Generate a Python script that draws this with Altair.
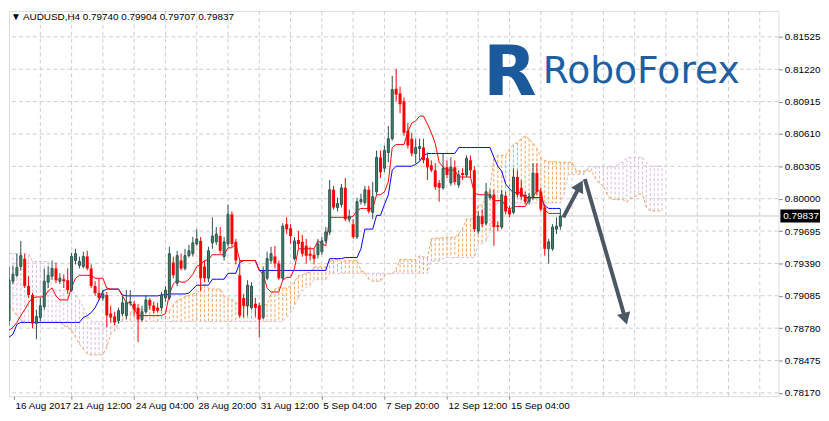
import altair as alt
import pandas as pd

# ---------------- data ----------------
open_ = [
    0.78852, 0.79222, 0.79278, 0.79361, 0.79435, 0.79176, 0.79093, 0.78824, 0.78880, 0.78982,
    0.79213, 0.79269, 0.79343, 0.79222, 0.79241, 0.79232, 0.79139, 0.79417, 0.79371, 0.79361,
    0.79454, 0.79343, 0.79176, 0.79111, 0.79065, 0.79093, 0.78917, 0.78889, 0.78852, 0.78917,
    0.78898, 0.79019, 0.79009, 0.78972, 0.78861, 0.78935, 0.79046, 0.78991, 0.78972, 0.78972,
    0.79065, 0.79065, 0.79398, 0.79204, 0.79417, 0.79343, 0.79463, 0.79482, 0.79574, 0.79602,
    0.79361, 0.79250, 0.79584, 0.79593, 0.79648, 0.79454, 0.79574, 0.79852, 0.79593, 0.79278,
    0.79065, 0.78991, 0.78972, 0.79009, 0.78991, 0.78880, 0.79250, 0.79417, 0.79454, 0.79389,
    0.79250, 0.79760, 0.79722, 0.79435, 0.79611, 0.79593, 0.79556, 0.79482, 0.79472, 0.79472,
    0.79500, 0.79602, 0.79685, 0.80084, 0.79917, 0.79945, 0.80102, 0.79806, 0.79760, 0.79639,
    0.79972, 0.79963, 0.80084, 0.79871, 0.80065, 0.80389, 0.80287, 0.80435, 0.80565, 0.81037,
    0.80991, 0.80917, 0.80639, 0.80565, 0.80426, 0.80473, 0.80482, 0.80380, 0.80315, 0.80269,
    0.80148, 0.80102, 0.80297, 0.80148, 0.80297, 0.80130, 0.80241, 0.80223, 0.80361, 0.80269,
    0.79695, 0.79834, 0.79769, 0.80010, 0.80037, 0.79750, 0.79732, 0.80028, 0.79898, 0.79871,
    0.80204, 0.80102, 0.80037, 0.79972, 0.80019, 0.80241, 0.80065, 0.79917, 0.79528, 0.79528,
    0.79713, 0.79740]
high_ = [
    0.79361, 0.79371, 0.79482, 0.79602, 0.79482, 0.79269, 0.79111, 0.78954, 0.79065, 0.79343,
    0.79361, 0.79417, 0.79398, 0.79297, 0.79287, 0.79343, 0.79491, 0.79528, 0.79454, 0.79500,
    0.79509, 0.79380, 0.79222, 0.79250, 0.79139, 0.79121, 0.78991, 0.78935, 0.78972, 0.79084,
    0.79139, 0.79139, 0.79037, 0.79009, 0.78991, 0.79084, 0.79065, 0.79028, 0.79019, 0.79121,
    0.79176, 0.79547, 0.79454, 0.79509, 0.79482, 0.79528, 0.79565, 0.79639, 0.79713, 0.79639,
    0.79417, 0.79547, 0.79824, 0.79732, 0.79732, 0.79639, 0.79945, 0.79880, 0.79621, 0.79417,
    0.79102, 0.79232, 0.79213, 0.79065, 0.79019, 0.79361, 0.79500, 0.79547, 0.79556, 0.79417,
    0.79769, 0.79824, 0.79760, 0.79639, 0.79695, 0.79658, 0.79621, 0.79547, 0.79528, 0.79621,
    0.79639, 0.79732, 0.80176, 0.80121, 0.80010, 0.80139, 0.80195, 0.79898, 0.79806, 0.80010,
    0.80047, 0.80121, 0.80121, 0.80158, 0.80454, 0.80454, 0.80500, 0.80686, 0.81158, 0.81223,
    0.81056, 0.80954, 0.80713, 0.80621, 0.80565, 0.80565, 0.80565, 0.80435, 0.80361, 0.80334,
    0.80176, 0.80426, 0.80361, 0.80389, 0.80361, 0.80269, 0.80287, 0.80408, 0.80408, 0.80306,
    0.79880, 0.79898, 0.80148, 0.80084, 0.80084, 0.79787, 0.80084, 0.80065, 0.79935, 0.80287,
    0.80269, 0.80176, 0.80065, 0.80056, 0.80334, 0.80334, 0.80102, 0.79945, 0.79621, 0.79760,
    0.79824, 0.79904]
low_ = [
    0.78806, 0.79195, 0.79259, 0.79324, 0.79158, 0.79065, 0.78778, 0.78676, 0.78843, 0.78954,
    0.79158, 0.79232, 0.79204, 0.79195, 0.79158, 0.79102, 0.79121, 0.79380, 0.79343, 0.79343,
    0.79324, 0.79158, 0.79084, 0.79046, 0.79037, 0.78787, 0.78834, 0.78806, 0.78824, 0.78889,
    0.78861, 0.78991, 0.78898, 0.78648, 0.78843, 0.78917, 0.78954, 0.78917, 0.78926, 0.78945,
    0.79028, 0.79046, 0.79250, 0.79176, 0.79324, 0.79324, 0.79445, 0.79454, 0.79556, 0.79130,
    0.79213, 0.79213, 0.79528, 0.79565, 0.79482, 0.79417, 0.79547, 0.79547, 0.79380, 0.78880,
    0.78880, 0.78898, 0.78954, 0.78889, 0.78695, 0.78861, 0.79232, 0.79389, 0.79343, 0.79232,
    0.79232, 0.79667, 0.79574, 0.79417, 0.79528, 0.79454, 0.79389, 0.79417, 0.79380, 0.79435,
    0.79472, 0.79584, 0.79658, 0.79898, 0.79880, 0.79917, 0.79787, 0.79778, 0.79621, 0.79621,
    0.79945, 0.79935, 0.79861, 0.79806, 0.80037, 0.80195, 0.80250, 0.80343, 0.80547, 0.80917,
    0.80806, 0.80593, 0.80473, 0.80398, 0.80334, 0.80361, 0.80334, 0.80176, 0.80250, 0.80084,
    0.79972, 0.80084, 0.80195, 0.80121, 0.80130, 0.80102, 0.80176, 0.80204, 0.80195, 0.79685,
    0.79667, 0.79732, 0.79750, 0.79991, 0.79556, 0.79695, 0.79713, 0.79852, 0.79824, 0.79852,
    0.80010, 0.79991, 0.79945, 0.79945, 0.79991, 0.80037, 0.79880, 0.79463, 0.79389, 0.79509,
    0.79667, 0.79707]
close_ = [
    0.79232, 0.79287, 0.79352, 0.79463, 0.79176, 0.79093, 0.78824, 0.78889, 0.78991, 0.79222,
    0.79278, 0.79343, 0.79232, 0.79250, 0.79222, 0.79139, 0.79454, 0.79482, 0.79408, 0.79454,
    0.79343, 0.79176, 0.79111, 0.79065, 0.79102, 0.78898, 0.78880, 0.78834, 0.78945, 0.79019,
    0.79019, 0.79028, 0.78954, 0.78861, 0.78935, 0.79046, 0.78991, 0.78945, 0.78945, 0.79093,
    0.79139, 0.79482, 0.79278, 0.79463, 0.79343, 0.79463, 0.79509, 0.79584, 0.79621, 0.79250,
    0.79250, 0.79509, 0.79648, 0.79667, 0.79509, 0.79593, 0.79852, 0.79574, 0.79417, 0.78898,
    0.78991, 0.79185, 0.79176, 0.78972, 0.78861, 0.79315, 0.79435, 0.79482, 0.79389, 0.79250,
    0.79741, 0.79713, 0.79648, 0.79602, 0.79574, 0.79482, 0.79463, 0.79463, 0.79435, 0.79574,
    0.79602, 0.79685, 0.80084, 0.79917, 0.79954, 0.80102, 0.79806, 0.79834, 0.79639, 0.79972,
    0.79991, 0.80084, 0.79880, 0.80019, 0.80389, 0.80250, 0.80454, 0.80565, 0.81028, 0.80982,
    0.80889, 0.80621, 0.80500, 0.80426, 0.80482, 0.80491, 0.80361, 0.80297, 0.80269, 0.80111,
    0.80102, 0.80287, 0.80223, 0.80297, 0.80158, 0.80223, 0.80223, 0.80380, 0.80269, 0.79713,
    0.79834, 0.79760, 0.80065, 0.80037, 0.79732, 0.79732, 0.80037, 0.79880, 0.79852, 0.80204,
    0.80037, 0.80019, 0.79972, 0.80019, 0.80241, 0.80065, 0.79898, 0.79528, 0.79593, 0.79732,
    0.79741, 0.79837]

tenkan = [
    0.78759, 0.78787, 0.78834, 0.78898, 0.78954, 0.79019, 0.79065, 0.79074, 0.79074, 0.79074,
    0.79130, 0.79158, 0.79084, 0.79046, 0.79046, 0.79046, 0.79167, 0.79250, 0.79278, 0.79278,
    0.79278, 0.79278, 0.79250, 0.79250, 0.79250, 0.79158, 0.79148, 0.79148, 0.79148, 0.79084,
    0.79019, 0.79019, 0.78963, 0.78898, 0.78898, 0.78898, 0.78898, 0.78898, 0.78898, 0.78898,
    0.78917, 0.79102, 0.79195, 0.79232, 0.79213, 0.79213, 0.79241, 0.79287, 0.79361, 0.79380,
    0.79417, 0.79426, 0.79472, 0.79472, 0.79472, 0.79472, 0.79537, 0.79537, 0.79574, 0.79417,
    0.79417, 0.79417, 0.79417, 0.79417, 0.79324, 0.79287, 0.79158, 0.79121, 0.79121, 0.79121,
    0.79232, 0.79259, 0.79259, 0.79343, 0.79528, 0.79528, 0.79528, 0.79528, 0.79528, 0.79602,
    0.79574, 0.79556, 0.79824, 0.79824, 0.79824, 0.79824, 0.79824, 0.79824, 0.79834, 0.79889,
    0.79908, 0.79908, 0.79908, 0.79908, 0.80037, 0.80037, 0.80065, 0.80158, 0.80482, 0.80510,
    0.80510, 0.80510, 0.80630, 0.80713, 0.80732, 0.80778, 0.80778, 0.80704, 0.80621, 0.80519,
    0.80343, 0.80297, 0.80269, 0.80269, 0.80269, 0.80204, 0.80204, 0.80204, 0.80204, 0.80056,
    0.80037, 0.80037, 0.80037, 0.80037, 0.79982, 0.79982, 0.79982, 0.79935, 0.79898, 0.79926,
    0.79926, 0.79926, 0.79926, 0.79991, 0.80019, 0.80074, 0.80074, 0.79898, 0.79861, 0.79861,
    0.79861, 0.79861]
kijun = [
    0.78695, 0.78722, 0.78815, 0.78834, 0.78834, 0.78834, 0.78834, 0.78834, 0.78834, 0.78834,
    0.78834, 0.78834, 0.78834, 0.78834, 0.78834, 0.78834, 0.78834, 0.78834, 0.78834, 0.78880,
    0.78898, 0.78926, 0.78972, 0.79046, 0.79130, 0.79148, 0.79148, 0.79148, 0.79148, 0.79093,
    0.79084, 0.79084, 0.79084, 0.79084, 0.79084, 0.79084, 0.79084, 0.79084, 0.79084, 0.79093,
    0.79093, 0.79102, 0.79102, 0.79102, 0.79102, 0.79102, 0.79111, 0.79148, 0.79185, 0.79185,
    0.79185, 0.79185, 0.79241, 0.79241, 0.79241, 0.79241, 0.79297, 0.79297, 0.79297, 0.79398,
    0.79417, 0.79417, 0.79417, 0.79417, 0.79324, 0.79324, 0.79324, 0.79324, 0.79324, 0.79324,
    0.79324, 0.79324, 0.79324, 0.79324, 0.79324, 0.79324, 0.79324, 0.79324, 0.79324, 0.79324,
    0.79324, 0.79324, 0.79435, 0.79435, 0.79435, 0.79435, 0.79445, 0.79445, 0.79445, 0.79445,
    0.79528, 0.79713, 0.79713, 0.79713, 0.79843, 0.79843, 0.79945, 0.80037, 0.80269, 0.80306,
    0.80306, 0.80306, 0.80306, 0.80306, 0.80324, 0.80352, 0.80408, 0.80426, 0.80426, 0.80426,
    0.80426, 0.80426, 0.80426, 0.80426, 0.80426, 0.80482, 0.80482, 0.80482, 0.80482, 0.80482,
    0.80482, 0.80482, 0.80482, 0.80482, 0.80389, 0.80306, 0.80259, 0.80139, 0.80093, 0.80056,
    0.80056, 0.80056, 0.80010, 0.80010, 0.80010, 0.80010, 0.80010, 0.79935, 0.79908, 0.79908,
    0.79908, 0.79908]
span_a = [
    0.79000, 0.78954, 0.78898, 0.78852, 0.78834, 0.78834, 0.78834, 0.78834, 0.78834, 0.78834,
    0.78834, 0.78834, 0.78834, 0.78834, 0.78806, 0.78787, 0.78759, 0.78695, 0.78630, 0.78583,
    0.78537, 0.78528, 0.78528, 0.78528, 0.78528, 0.78602, 0.78727, 0.78755, 0.78824, 0.78866,
    0.78894, 0.78926, 0.78949, 0.78954, 0.78954, 0.78954, 0.78982, 0.78996, 0.78959, 0.78940,
    0.78940, 0.78940, 0.79000, 0.79042, 0.79056, 0.79079, 0.79088, 0.79102, 0.79111, 0.79148,
    0.79190, 0.79153, 0.79148, 0.79148, 0.79148, 0.79088, 0.79051, 0.79051, 0.79023, 0.78991,
    0.78991, 0.78991, 0.78991, 0.78991, 0.78991, 0.78996, 0.79005, 0.79102, 0.79148, 0.79167,
    0.79158, 0.79158, 0.79176, 0.79218, 0.79273, 0.79283, 0.79301, 0.79305, 0.79357, 0.79357,
    0.79357, 0.79357, 0.79417, 0.79417, 0.79435, 0.79408, 0.79417, 0.79417, 0.79417, 0.79417,
    0.79324, 0.79305, 0.79241, 0.79222, 0.79222, 0.79222, 0.79278, 0.79292, 0.79292, 0.79334,
    0.79426, 0.79426, 0.79426, 0.79426, 0.79426, 0.79463, 0.79449, 0.79440, 0.79621, 0.79630,
    0.79630, 0.79630, 0.79634, 0.79634, 0.79639, 0.79667, 0.79718, 0.79810, 0.79810, 0.79810,
    0.79940, 0.79940, 0.80005, 0.80097, 0.80375, 0.80408, 0.80408, 0.80408, 0.80468, 0.80510,
    0.80528, 0.80565, 0.80593, 0.80565, 0.80523, 0.80473, 0.80385, 0.80361, 0.80348, 0.80348,
    0.80348, 0.80343, 0.80343, 0.80343, 0.80343, 0.80269, 0.80260, 0.80260, 0.80260, 0.80260,
    0.80185, 0.80144, 0.80121, 0.80037, 0.79996, 0.79991, 0.79991, 0.79991, 0.79968, 0.80000,
    0.80014, 0.80042, 0.80042, 0.79917, 0.79885, 0.79885, 0.79885, 0.79885]
span_b = [
    0.79482, 0.79482, 0.79482, 0.79482, 0.79482, 0.79482, 0.79408, 0.79408, 0.79408, 0.79408,
    0.79408, 0.79139, 0.79139, 0.79139, 0.79139, 0.79139, 0.79139, 0.79093, 0.79046, 0.78972,
    0.78898, 0.78843, 0.78843, 0.78843, 0.78843, 0.78843, 0.78843, 0.78843, 0.78843, 0.78843,
    0.78843, 0.78843, 0.78843, 0.78843, 0.78843, 0.78843, 0.78843, 0.78843, 0.78843, 0.78843,
    0.78843, 0.78843, 0.78843, 0.78843, 0.78843, 0.78843, 0.78843, 0.78843, 0.78843, 0.78843,
    0.78843, 0.78843, 0.78843, 0.78843, 0.78843, 0.78843, 0.78843, 0.78843, 0.78843, 0.78843,
    0.78843, 0.78843, 0.78843, 0.78843, 0.78843, 0.78843, 0.78843, 0.78843, 0.78843, 0.78843,
    0.78843, 0.78880, 0.78926, 0.78991, 0.79065, 0.79130, 0.79167, 0.79181, 0.79236, 0.79236,
    0.79236, 0.79236, 0.79297, 0.79297, 0.79297, 0.79297, 0.79297, 0.79297, 0.79297, 0.79297,
    0.79297, 0.79297, 0.79297, 0.79297, 0.79297, 0.79297, 0.79297, 0.79297, 0.79297, 0.79297,
    0.79297, 0.79297, 0.79297, 0.79297, 0.79297, 0.79297, 0.79297, 0.79297, 0.79412, 0.79412,
    0.79412, 0.79435, 0.79445, 0.79445, 0.79445, 0.79445, 0.79445, 0.79445, 0.79445, 0.79445,
    0.79574, 0.79574, 0.79597, 0.79690, 0.79926, 0.79959, 0.79959, 0.79959, 0.79959, 0.79959,
    0.79959, 0.79959, 0.79959, 0.79959, 0.79959, 0.79959, 0.79959, 0.79959, 0.79959, 0.79959,
    0.79959, 0.79959, 0.80042, 0.80227, 0.80227, 0.80227, 0.80227, 0.80227, 0.80301, 0.80301,
    0.80301, 0.80301, 0.80301, 0.80301, 0.80301, 0.80301, 0.80329, 0.80348, 0.80389, 0.80389,
    0.80389, 0.80389, 0.80389, 0.80343, 0.80306, 0.80306, 0.80306, 0.80306]

price_ticks = [0.81525, 0.81220, 0.80915, 0.80610, 0.80305, 0.80000,
               0.79695, 0.79390, 0.79085, 0.78780, 0.78475, 0.78170]
time_labels = ["16 Aug 2017", "21 Aug 12:00", "24 Aug 04:00", "28 Aug 20:00",
               "31 Aug 12:00", "5 Sep 04:00", "7 Sep 20:00", "12 Sep 12:00", "15 Sep 04:00"]
X_MIN, X_MAX = 1.25, 195.5
Y_MIN, Y_MAX = 0.78139, 0.81769
label_bars = [X_MIN, 16, 32, 48, 64, 80, 96, 112, 128]
grid_bars = [8, 16, 24, 32, 40, 48, 56, 64, 72, 80, 88, 96, 104, 112, 120, 128,
             136, 144, 152, 160, 168, 176, 184, 192]

# forecast arrows (bar index, price)
arrow_seg = ["up", "up", "down", "down"]
arrow_bar = [141.75, 146.0, 147.25, 157.6]
arrow_price = [0.79824, 0.80121, 0.80186, 0.78869]
head_bar = [146.0, 157.6]
head_price = [0.80121, 0.78869]
head_angle = [28, 164]

symbol = "AUDUSD,H4"
brand = "RoboForex"

# ---------------- frames ----------------
n = len(open_)
bars = pd.DataFrame({"bar": list(range(n)), "open": open_, "high": high_, "low": low_,
                     "close": close_, "tenkan": tenkan, "kijun": kijun})
cloud = pd.DataFrame({"bar": list(range(len(span_a))), "a": span_a, "b": span_b})
arrows = pd.DataFrame({"bar": arrow_bar, "price": arrow_price, "seg": arrow_seg})
heads = pd.DataFrame({"bar": head_bar, "price": head_price, "angle": head_angle})
last = pd.DataFrame({"price": [close_[-1]], "label": [f"{close_[-1]:.5f}"]})
header = pd.DataFrame({"t": [f"\u25bc {symbol}  {open_[-1]:.5f} {high_[-1]:.5f} {low_[-1]:.5f} {close_[-1]:.5f}"]})

FONT = "Liberation Sans"
xs = alt.Scale(domain=[X_MIN, X_MAX], nice=False, zero=False)
ys = alt.Scale(domain=[Y_MIN, Y_MAX], nice=False, zero=False)
label_expr = ("[" + ",".join(f"'{t}'" for t in time_labels) + "][indexof(["
              + ",".join(str(b) for b in label_bars) + "], datum.value)]")
x_axis = alt.Axis(values=label_bars, labelExpr=label_expr, tickSize=3, labelAlign="left",
                  labelOffset=1, labelPadding=1, labelOverlap=False, labelBound=False,
                  labelFlush=False, domain=False, grid=False, title=None)
y_axis = alt.Axis(orient="right", values=price_ticks, format=".5f", tickSize=4,
                  labelPadding=2, labelOverlap=False, domain=False, grid=False, title=None)


def X(f):
    return alt.X(f, type="quantitative", scale=xs, axis=x_axis)


def Y(f):
    return alt.Y(f, type="quantitative", scale=ys, axis=y_axis)


GRID = "#CDCDCD"
vgrid = alt.Chart(pd.DataFrame({"bar": grid_bars})).mark_rule(
    color=GRID, strokeDash=[4, 3], strokeWidth=1).encode(x=X("bar"))
hgrid = alt.Chart(pd.DataFrame({"price": price_ticks})).mark_rule(
    color=GRID, strokeDash=[4, 3], strokeWidth=1).encode(y=Y("price"))
lastline = alt.Chart(last).mark_rule(color="#C8C8C8", strokeWidth=1).encode(y=Y("price"))

SANDY, THISTLE = "#F4A460", "#D8BFD8"
cb = alt.Chart(cloud)
hatch_up = cb.transform_filter("datum.a >= datum.b").mark_rule(
    color=SANDY, strokeDash=[3, 2], strokeWidth=1, clip=True).encode(
    x=X("bar"), y=Y("a"), y2=alt.Y2("b"))
hatch_dn = cb.transform_filter("datum.a < datum.b").mark_rule(
    color=THISTLE, strokeDash=[3, 2], strokeWidth=1, clip=True).encode(
    x=X("bar"), y=Y("a"), y2=alt.Y2("b"))
line_a = cb.mark_line(color=SANDY, strokeDash=[3, 2], strokeWidth=1, clip=True).encode(
    x=X("bar"), y=Y("a"))
line_b = cb.mark_line(color=THISTLE, strokeDash=[3, 2], strokeWidth=1, clip=True).encode(
    x=X("bar"), y=Y("b"))

bb = alt.Chart(bars)
kij = bb.mark_line(color="#0000FF", strokeWidth=1, clip=True).encode(x=X("bar"), y=Y("kijun"))
ten = bb.mark_line(color="#FF0000", strokeWidth=1, clip=True).encode(x=X("bar"), y=Y("tenkan"))

bull = bb.transform_filter("datum.close >= datum.open")
bear = bb.transform_filter("datum.close < datum.open")
wick_bull = bull.mark_rule(color="#2F4F4F", strokeWidth=1, clip=True).encode(
    x=X("bar"), y=Y("low"), y2=alt.Y2("high"))
wick_bear = bear.mark_rule(color="#FF0000", strokeWidth=1, clip=True).encode(
    x=X("bar"), y=Y("low"), y2=alt.Y2("high"))
body_bull = bull.mark_bar(size=2, fill="#3D8B66", stroke="#2F4F4F", strokeWidth=1,
                          clip=True).encode(x=X("bar"), y=Y("open"), y2=alt.Y2("close"))
body_bear = bear.mark_bar(size=3, color="#FF0000", clip=True).encode(
    x=X("bar"), y=Y("open"), y2=alt.Y2("close"))

ARROW = "#4B5763"
arrow_lines = alt.Chart(arrows).mark_line(color=ARROW, strokeWidth=4, strokeCap="butt").encode(
    x=X("bar"), y=Y("price"), detail="seg:N")
arrow_heads = alt.Chart(heads).mark_point(shape="triangle-up", filled=True, size=190,
                                          color=ARROW, opacity=1).encode(
    x=X("bar"), y=Y("price"), angle=alt.Angle("angle:Q", scale=None))

# black price tag on the right axis
price_box = alt.Chart(last).mark_rect(color="black", yOffset=-6.5, y2Offset=6.5).encode(
    x=alt.value(779), x2=alt.value(819), y=Y("price"), y2=alt.Y2("price"))
price_txt = alt.Chart(last).mark_text(align="left", baseline="middle", color="white",
                                      font=FONT, fontSize=10).encode(
    x=alt.value(782), y=Y("price"), text="label:N")

head_txt = alt.Chart(header).mark_text(align="left", baseline="alphabetic", color="black",
                                       font=FONT, fontSize=10).encode(
    x=alt.value(2), y=alt.value(9), text="t:N")
logo_icon = alt.Chart(pd.DataFrame({"t": [brand[0]]})).mark_text(
    align="left", baseline="alphabetic", color="#1A5A9C", font="DejaVu Sans",
    fontWeight="bold", fontSize=70).encode(x=alt.value(479), y=alt.value(85), text="t:N")
logo_txt = alt.Chart(pd.DataFrame({"t": [brand]})).mark_text(
    align="left", baseline="alphabetic", color="#1C5FA2", font="DejaVu Sans",
    fontSize=38).encode(x=alt.value(539), y=alt.value(73), text="t:N")

chart = alt.layer(
    vgrid, hgrid, lastline, hatch_up, hatch_dn, line_a, line_b, kij, ten,
    wick_bull, wick_bear, body_bull, body_bear, arrow_lines, arrow_heads,
    price_box, price_txt, head_txt, logo_icon, logo_txt
).properties(width=777, height=389, padding=0).configure_view(
    stroke="black", strokeWidth=1
).configure_axis(
    labelFont=FONT, labelFontSize=10, labelColor="black", tickColor="black"
).configure(background="white")

chart.save("out.html", embed_options={"renderer": "svg", "actions": False})
